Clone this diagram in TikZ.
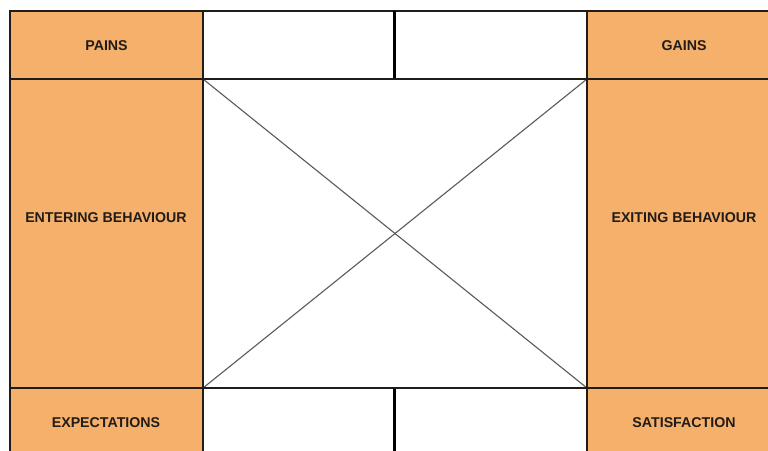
\documentclass[tikz,border=0pt]{standalone}
\usepackage{fontspec}
\setmainfont{Liberation Sans}
\definecolor{cellorange}{RGB}{245,176,108}
\definecolor{gridline}{RGB}{34,28,24}
\definecolor{diag}{RGB}{90,90,90}
\tikzset{
  orangecell/.style={fill=cellorange, draw=gridline, line width=1.5pt},
  whitecell/.style={fill=white, draw=gridline, line width=1.5pt},
  label/.style={font=\bfseries\fontsize{14.2}{16}\selectfont, text=gridline, inner sep=0pt},
  diagline/.style={draw=diag, line width=1.1pt}
}
\begin{document}
\begin{tikzpicture}[x=1pt,y=-1pt]
\useasboundingbox (0,0) rectangle (768,450);
\fill[white] (0,0) rectangle (768,450);
% left column
\draw[orangecell] (10,11) rectangle (203,79);
\draw[orangecell] (10,79) rectangle (203,388);
\draw[orangecell] (10,388) rectangle (203,470);
% right column
\draw[orangecell] (587,11) rectangle (790,79);
\draw[orangecell] (587,79) rectangle (790,388);
\draw[orangecell] (587,388) rectangle (790,470);
% middle cells
\draw[whitecell] (203,11) rectangle (587,79);
\draw[whitecell] (203,79) rectangle (587,388);
\draw[whitecell] (203,388) rectangle (587,470);
% corner coordinates
\coordinate (tl) at (203,79);
\coordinate (tr) at (587,79);
\coordinate (bl) at (203,388);
\coordinate (br) at (587,388);
\coordinate (ct) at (394.5,11);
\coordinate (cm) at (394.5,79);
\coordinate (cb) at (394.5,388);
\coordinate (cbb) at (394.5,470);
\draw[diagline] (tl) -- (br);
\draw[diagline] (tr) -- (bl);
\draw[draw=black, line width=2.4pt] (ct) -- (cm);
\draw[draw=black, line width=2.4pt] (cb) -- (cbb);
% redraw borders over diagonals
\draw[draw=gridline, line width=1.5pt] (tl) rectangle (br);
% labels
\node[label] (pains) at (106.5,46) {PAINS};
\node[label] (entering) at (106,218) {ENTERING BEHAVIOUR};
\node[label] (expect) at (106,423) {EXPECTATIONS};
\node[label] (gains) at (684,46) {GAINS};
\node[label] (exiting) at (684,218) {EXITING BEHAVIOUR};
\node[label] (satis) at (684,423) {SATISFACTION};
\end{tikzpicture}
\end{document}
